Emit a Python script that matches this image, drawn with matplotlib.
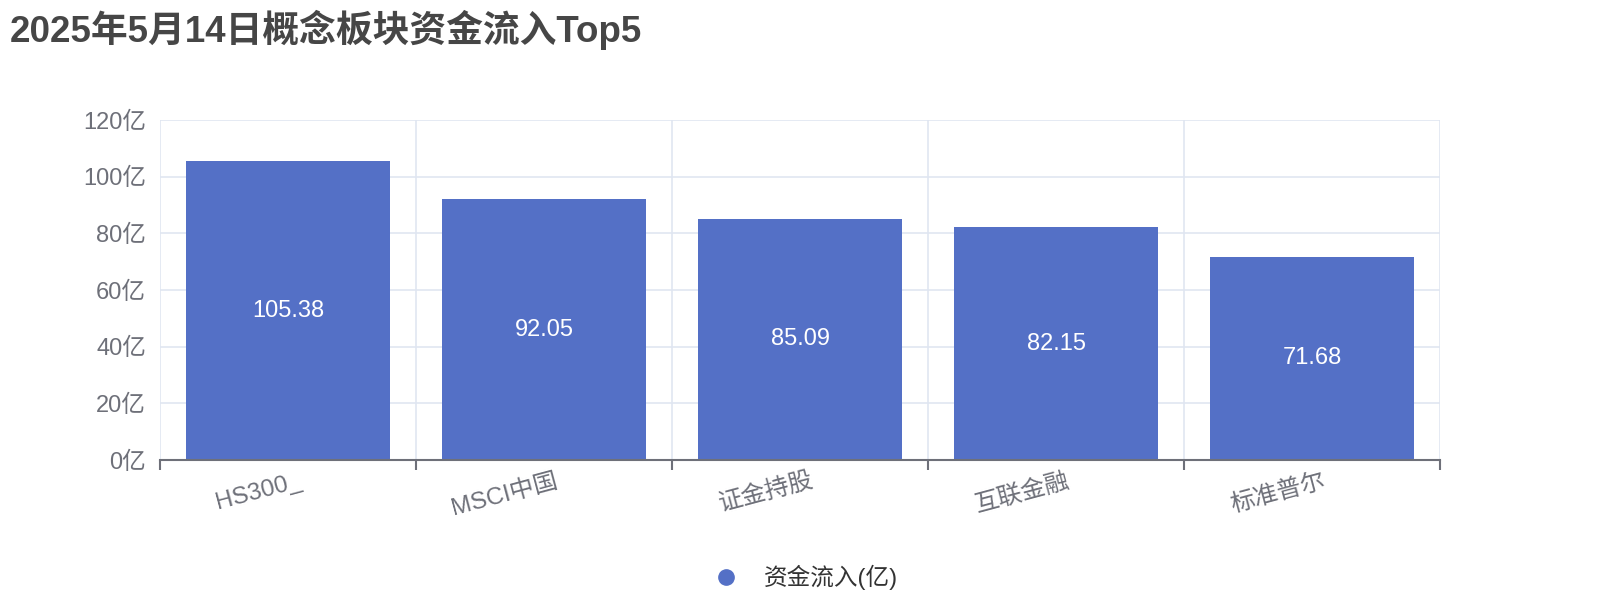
import numpy as np
import matplotlib.pyplot as plt
import matplotlib.transforms as mtransforms
from matplotlib.lines import Line2D

plt.rcParams['font.family'] = ['Liberation Sans', 'Noto Sans CJK SC', 'DejaVu Sans']

categories = ['HS300_', 'MSCI中国', '证金持股', '互联金融', '标准普尔']
inflow = [105.38, 92.05, 85.09, 82.15, 71.68]
yticks = [0, 20, 40, 60, 80, 100, 120]
title = '2025年5月14日概念板块资金流入Top5'
series_name = '资金流入(亿)'

bar_color = '#5470c6'
axis_color = '#6E7079'
grid_color = '#E0E6F1'

fig = plt.figure(figsize=(16, 6), dpi=100)
ax = fig.add_axes([0.1, 0.2333, 0.8, 0.5667])

x = np.arange(len(categories))
bars = ax.bar(x, inflow, width=0.8, color=bar_color, zorder=3)
for b, v in zip(bars, inflow):
    ax.text(b.get_x() + b.get_width() / 2, v / 2, '%.2f' % v, ha='center', va='center',
            color='white', fontsize=17, zorder=4)

ax.set_xlim(-0.5, len(categories) - 0.5)
ax.set_ylim(0, 120)
ax.set_yticks(yticks)
ax.set_yticklabels(['%d亿' % t for t in yticks])

# grid: horizontal at y ticks, vertical at category boundaries
for t in yticks[1:]:
    ax.axhline(t, color=grid_color, lw=1.2, zorder=1)
for b in np.arange(-0.5, len(categories), 1.0):
    ax.axvline(b, color=grid_color, lw=1.2, zorder=1)

ax.set_xticks(np.arange(-0.5, len(categories), 1.0))
ax.set_xticklabels([])
ax.set_xticks(x, minor=True)
ax.set_xticklabels(categories, minor=True, rotation=15, ha='right', rotation_mode='anchor',
                   color=axis_color, fontsize=17.5)
ax.tick_params(axis='x', which='major', length=7, width=1.5, color=axis_color)
ax.tick_params(axis='x', which='minor', length=0, pad=7)
ax.tick_params(axis='y', length=0, labelsize=17, labelcolor=axis_color, pad=10)
shift = mtransforms.ScaledTranslation(0.1, 0, fig.dpi_scale_trans)
for lbl in ax.get_xticklabels(minor=True):
    lbl.set_transform(lbl.get_transform() + shift)

for s in ['top', 'right', 'left']:
    ax.spines[s].set_visible(False)
ax.spines['bottom'].set_color(axis_color)
ax.spines['bottom'].set_linewidth(1.5)
ax.spines['bottom'].set_zorder(5)

fig.text(0.006, 0.95, title, fontsize=26.5, fontweight='bold', color='#464646', va='center')

handle = Line2D([], [], marker='o', linestyle='none', markersize=11, color=bar_color)
fig.legend([handle], [series_name], loc='center', bbox_to_anchor=(0.5, 0.037), frameon=False,
           fontsize=17, handletextpad=0.6, labelcolor='#333333')

fig.savefig('out.png', dpi=100)
